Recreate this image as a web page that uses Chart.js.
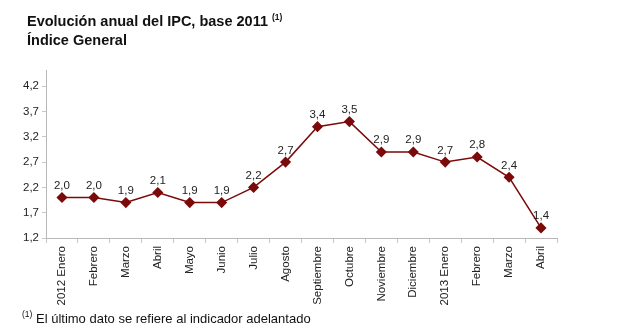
<!DOCTYPE html>
<html>
<head>
<meta charset="utf-8">
<script src="https://cdn.jsdelivr.net/npm/chart.js@4/dist/chart.umd.min.js"></script>
<style>
  html, body { margin: 0; padding: 0; background: #fff; }
  #wrap { position: relative; width: 621px; height: 333px; overflow: hidden; font-family: Arial, "Liberation Sans", sans-serif; }
  #c { position: absolute; left: 0; top: 0; }
  .title { position: absolute; left: 27px; font-weight: bold; font-size: 14.5px; color: #111; white-space: nowrap; }
  .sup { font-size: 8.5px; vertical-align: 6px; }
  .note { position: absolute; left: 22px; top: 309px; font-size: 13px; color: #111; white-space: nowrap; }
</style>
</head>
<body>
<div id="wrap">
  <canvas id="c" width="621" height="333"></canvas>
  <div class="title" style="top:12px">Evolución anual del IPC, base 2011 <span class="sup">(1)</span></div>
  <div class="title" style="top:32px">Índice General</div>
  <div class="note"><span class="sup" style="font-size:8.5px">(1)</span> El último dato se refiere al indicador adelantado</div>
</div>
<script>
// Monthly annual CPI change, Jan 2012 - Apr 2013
const months = ["2012 Enero", "Febrero", "Marzo", "Abril", "Mayo", "Junio", "Julio", "Agosto",
                "Septiembre", "Octubre", "Noviembre", "Diciembre", "2013 Enero", "Febrero", "Marzo", "Abril"];
const ipcValues = [2.0, 2.0, 1.9, 2.1, 1.9, 1.9, 2.2, 2.7, 3.4, 3.5, 2.9, 2.9, 2.7, 2.8, 2.4, 1.4];
const yTicks = [1.2, 1.7, 2.2, 2.7, 3.2, 3.7, 4.2];

const fmt = v => v.toFixed(1).replace('.', ',');

// Draws the value above each point
const valueLabels = {
  id: 'valueLabels',
  afterDatasetsDraw(chart) {
    const ctx = chart.ctx;
    const meta = chart.getDatasetMeta(0);
    ctx.save();
    ctx.font = '11.5px Arial, "Liberation Sans", sans-serif';
    ctx.fillStyle = '#222';
    ctx.textAlign = 'center';
    ctx.textBaseline = 'bottom';
    meta.data.forEach((pt, i) => {
      ctx.fillText(fmt(ipcValues[i]), pt.x, pt.y - 6);
    });
    ctx.restore();
  }
};

new Chart(document.getElementById('c'), {
  type: 'line',
  data: {
    labels: months,
    datasets: [{
      data: ipcValues,
      borderColor: '#7b0a0a',
      backgroundColor: '#7b0a0a',
      borderWidth: 1.5,
      pointStyle: 'rectRot',
      pointRadius: 4.5,
      pointHoverRadius: 4.5,
      tension: 0
    }]
  },
  options: {
    responsive: false,
    animation: false,
    layout: { padding: { left: 0, top: 70, right: 64, bottom: 0 } },
    plugins: { legend: { display: false }, tooltip: { enabled: false } },
    scales: {
      x: {
        offset: true,
        afterFit: s => { s.height = 95; },
        grid: { offset: true, drawOnChartArea: false, tickLength: 5, color: '#c8c8c8' },
        border: { color: '#b8b8b8' },
        ticks: {
          minRotation: 90, maxRotation: 90, autoSkip: false, padding: 3,
          color: '#222', font: { size: 11.5, family: 'Arial, "Liberation Sans", sans-serif' }
        }
      },
      y: {
        min: 1.2, max: 4.52,
        afterFit: s => { s.width = 46; },
        afterBuildTicks: s => { s.ticks = yTicks.map(v => ({ value: v })); },
        grid: { drawOnChartArea: false, tickLength: 4, color: '#c8c8c8' },
        border: { color: '#b8b8b8' },
        ticks: {
          padding: 3, color: '#222',
          font: { size: 11.5, family: 'Arial, "Liberation Sans", sans-serif' },
          callback: v => fmt(v)
        }
      }
    }
  },
  plugins: [valueLabels]
});
</script>
</body>
</html>
